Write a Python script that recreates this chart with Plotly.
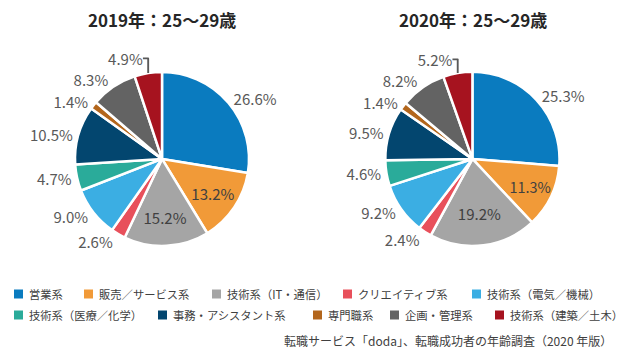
import plotly.graph_objects as go

categories = ["営業系", "販売／サービス系", "技術系（IT・通信）", "クリエイティブ系", "技術系（電気／機械）",
              "技術系（医療／化学）", "事務・アシスタント系", "専門職系", "企画・管理系", "技術系（建築／土木）"]
values_2019 = [26.6, 13.2, 15.2, 2.6, 9.0, 4.7, 10.5, 1.4, 8.3, 4.9]
values_2020 = [25.3, 11.3, 19.2, 2.4, 9.2, 4.6, 9.5, 1.4, 8.2, 5.2]
colors = ["#0a7bbf", "#f19a38", "#a5a5a5", "#e8505b", "#3baee3",
          "#2aab9a", "#03466f", "#b3661c", "#636363", "#a6131f"]
titles = ["2019年：25～29歳", "2020年：25～29歳"]
source = "転職サービス「doda」、転職成功者の年齢調査（2020 年版）"

FONT = "Noto Sans CJK JP"
W, H = 632, 354
pos_2019 = ["outside", "inside", "inside"] + ["outside"] * 7
pos_2020 = ["outside", "inside", "inside"] + ["outside"] * 7

fig = go.Figure()
for vals, pos, dom in [(values_2019, pos_2019, [0.1187, 0.394]),
                       (values_2020, pos_2020, [0.609, 0.886])]:
    fig.add_trace(go.Pie(
        labels=categories, values=vals, sort=False, direction="clockwise", rotation=0,
        marker=dict(colors=colors, line=dict(color="white", width=2.5)),
        texttemplate="%{value:.1f}%", textposition=pos, insidetextorientation="horizontal",
        outsidetextfont=dict(family=FONT, size=15, color="#595959"),
        insidetextfont=dict(family=FONT, size=15, color="#404040"),
        domain=dict(x=dom, y=[0.305, 0.797]),
        hoverinfo="label+value", showlegend=False,
    ))

for t, cx in zip(titles, [162, 473]):
    fig.add_annotation(text="<b>" + t + "</b>", x=cx / W, y=1 - 19 / H, xref="paper", yref="paper",
                       showarrow=False, xanchor="center", yanchor="middle",
                       font=dict(family=FONT, size=17, color="#262626"))

# custom legend layout (two rows of five, as in the reference)
legend_left = [14, 84, 212, 343, 472, 14, 158, 313, 390, 495]
legend_row_y = [294, 315]
SQ = 9
for i, (cat, col) in enumerate(zip(categories, colors)):
    lx = legend_left[i]
    ly = legend_row_y[i // 5]
    fig.add_shape(type="rect", xref="paper", yref="paper",
                  x0=lx / W, x1=(lx + SQ) / W, y0=1 - (ly + SQ / 2) / H, y1=1 - (ly - SQ / 2) / H,
                  fillcolor=col, line=dict(width=0))
    fig.add_annotation(text=cat, x=(lx + SQ + 4) / W, y=1 - ly / H, xref="paper", yref="paper",
                       showarrow=False, xanchor="left", yanchor="middle",
                       font=dict(family=FONT, size=11.3, color="#404040"))

fig.add_annotation(text=source, x=614 / W, y=1 - 340 / H, xref="paper", yref="paper",
                   showarrow=False, xanchor="right", yanchor="middle",
                   font=dict(family=FONT, size=12, color="#404040"))

fig.update_layout(
    width=W, height=H, margin=dict(l=0, r=0, t=0, b=0),
    paper_bgcolor="white", plot_bgcolor="white",
    showlegend=False,
)
fig.write_html("out.html")
